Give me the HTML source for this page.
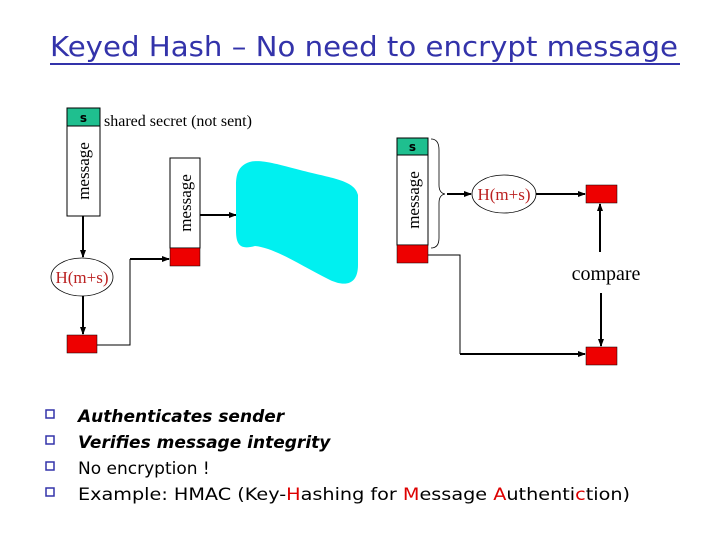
<!DOCTYPE html>
<html><head><meta charset="utf-8"><style>
body{margin:0;background:#fff;}
svg{display:block}
.t{font-family:"DejaVu Sans","Liberation Sans",sans-serif;}
.s{font-family:"Liberation Serif",serif;}
</style></head><body>
<svg width="720" height="540" viewBox="0 0 720 540" xmlns="http://www.w3.org/2000/svg">
<defs><marker id="a" markerWidth="8" markerHeight="8" refX="7" refY="4" orient="auto" markerUnits="userSpaceOnUse"><path d="M0,1 L8,4 L0,7 Z" fill="#000"/></marker></defs>
<text x="50" y="56" class="t" font-size="28" fill="#3333aa" textLength="628" lengthAdjust="spacingAndGlyphs">Keyed Hash – No need to encrypt message</text>
<line x1="50" y1="64" x2="680" y2="64" stroke="#3333aa" stroke-width="2"/>

<!-- left message -->
<rect x="67" y="108" width="33" height="18" fill="#1fbf8f" stroke="#000"/>
<text x="83.5" y="122" text-anchor="middle" class="t" font-size="12" font-weight="bold">s</text>
<rect x="67" y="126" width="33" height="90" fill="#fff" stroke="#000"/>
<text transform="translate(89,171) rotate(-90)" text-anchor="middle" class="s" font-size="17">message</text>
<text x="104" y="126" class="s" font-size="16">shared secret (not sent)</text>
<line x1="83" y1="216" x2="83" y2="257" stroke="#000" stroke-width="2" marker-end="url(#a)"/>
<ellipse cx="82" cy="277" rx="31" ry="19" fill="#fff" stroke="#000" stroke-width="0.8"/>
<text x="82" y="283" text-anchor="middle" class="s" font-size="17" fill="#b22">H(m+s)</text>
<line x1="83" y1="296" x2="83" y2="334" stroke="#000" stroke-width="2" marker-end="url(#a)"/>
<rect x="67" y="335" width="30" height="18" fill="#e00" stroke="#000" stroke-width="0.5"/>
<polyline points="97,345 130,345 130,259" fill="none" stroke="#000"/>
<line x1="130" y1="259" x2="169" y2="259" stroke="#000" stroke-width="2" marker-end="url(#a)"/>

<rect x="170" y="158" width="30" height="90" fill="#fff" stroke="#000"/>
<text transform="translate(191,203) rotate(-90)" text-anchor="middle" class="s" font-size="17">message</text>
<rect x="170" y="248" width="30" height="18" fill="#e00" stroke="#000" stroke-width="0.5"/>
<line x1="200" y1="215" x2="236" y2="215" stroke="#000" stroke-width="2" marker-end="url(#a)"/>

<path d="M245,164 C255,158 270,162 300,170 C330,178 355,180 358,195 L358,265 C358,285 345,287 330,280 C300,265 275,248 255,246 C240,250 236,245 236,230 L236,185 C236,172 240,167 245,164 Z" fill="#00f0f0"/>

<!-- right -->
<rect x="397" y="138" width="31" height="17" fill="#1fbf8f" stroke="#000"/>
<text x="412.5" y="151" text-anchor="middle" class="t" font-size="12" font-weight="bold">s</text>
<rect x="397" y="155" width="31" height="90" fill="#fff" stroke="#000"/>
<text transform="translate(419,200) rotate(-90)" text-anchor="middle" class="s" font-size="17">message</text>
<rect x="397" y="245" width="31" height="18" fill="#e00" stroke="#000" stroke-width="0.5"/>
<path d="M431,139 Q439,139 439,150 L439,185 Q439,193 445,194 Q439,195 439,203 L439,238 Q439,248 431,248" fill="none" stroke="#000" stroke-width="0.8"/>
<line x1="447" y1="194" x2="471" y2="194" stroke="#000" stroke-width="2" marker-end="url(#a)"/>
<ellipse cx="504" cy="194" rx="32" ry="19" fill="#fff" stroke="#000" stroke-width="0.8"/>
<text x="504" y="200" text-anchor="middle" class="s" font-size="17" fill="#b22">H(m+s)</text>
<line x1="536" y1="194" x2="585" y2="194" stroke="#000" stroke-width="2" marker-end="url(#a)"/>
<rect x="586" y="185" width="31" height="18" fill="#e00" stroke="#000" stroke-width="0.5"/>
<line x1="600" y1="252" x2="600" y2="204" stroke="#000" stroke-width="2" marker-end="url(#a)"/>
<text x="606" y="280" text-anchor="middle" class="s" font-size="20">compare</text>
<line x1="601" y1="293" x2="601" y2="346" stroke="#000" stroke-width="2" marker-end="url(#a)"/>
<rect x="586" y="347" width="31" height="18" fill="#e00" stroke="#000" stroke-width="0.5"/>
<polyline points="428,255 460,255 460,354" fill="none" stroke="#000"/>
<line x1="460" y1="354" x2="585" y2="354" stroke="#000" stroke-width="2" marker-end="url(#a)"/>

<!-- bullets -->
<g fill="none" stroke="#3333aa" stroke-width="1.5">
<rect x="46" y="410" width="8" height="8"/><rect x="46" y="436" width="8" height="8"/>
<rect x="46" y="462" width="8" height="8"/><rect x="46" y="488" width="8" height="8"/>
</g>
<g class="t" font-size="17">
<text x="78" y="422" font-weight="bold" font-style="italic">Authenticates sender</text>
<text x="78" y="448" font-weight="bold" font-style="italic">Verifies message integrity</text>
<text x="78" y="474">No encryption !</text>
<text x="78" y="500" textLength="552" lengthAdjust="spacingAndGlyphs">Example:  HMAC  (Key-<tspan fill="#d00">H</tspan>ashing for <tspan fill="#d00">M</tspan>essage <tspan fill="#d00">A</tspan>uthenti<tspan fill="#d00">c</tspan>tion)</text>
</g>
</svg>
</body></html>
